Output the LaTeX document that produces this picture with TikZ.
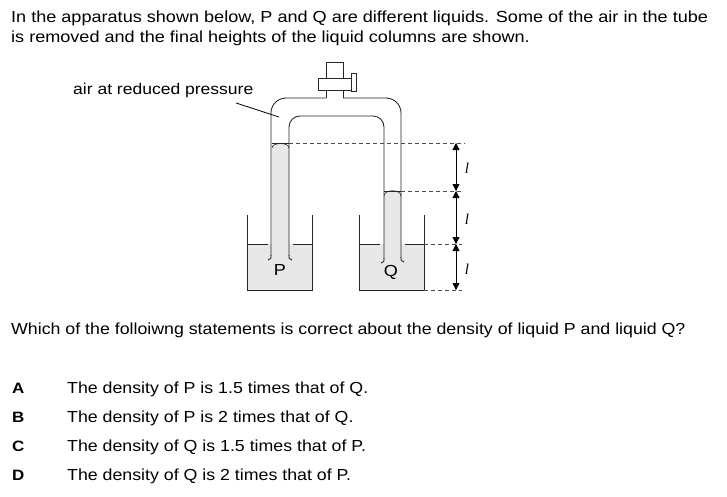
\documentclass[tikz,border=0pt]{standalone}
\usepackage{fontspec}
\setmainfont{Liberation Sans}[FakeStretch=1.13]
\newfontfamily\optfont{Liberation Sans}[FakeStretch=1.11]
\newfontfamily\serifit{Liberation Serif}
\usetikzlibrary{arrows.meta}
\begin{document}
\begin{tikzpicture}[x=1pt,y=-1pt,
  wall/.style={draw=black!85,line width=0.9pt},
  liquid/.style={fill=black!9},
  lev/.style={draw=black!70,dashed,dash pattern=on 4pt off 3pt,line width=0.7pt},
  dim/.style={draw=black,line width=0.8pt,{Triangle[length=7pt,width=7pt]}-{Triangle[length=7pt,width=7pt]}},
  txt/.style={anchor=base west,inner sep=0pt,font=\fontsize{16}{20}\selectfont},
  otxt/.style={anchor=base west,inner sep=0pt,font=\fontsize{16}{20}\optfont},
  opt/.style={anchor=base west,inner sep=0pt,font=\fontsize{15}{20}\selectfont\bfseries},
  lbl/.style={inner sep=0pt,font=\fontsize{16}{16}\selectfont},
  ell/.style={inner sep=0pt,font=\fontsize{15}{16}\selectfont\serifit\itshape}]
\useasboundingbox (0,0) rectangle (727,496);
% question text
\node[txt] (t1) at (11,22) {In the apparatus shown below, P and Q are different liquids. Some of the air in the tube};
\node[txt] (t2) at (11,42) {is removed and the final heights of the liquid columns are shown.};
\node[otxt] (t3) at (11,334) {Which of the folloiwng statements is correct about the density of liquid P and liquid Q?};
\node[opt] (la) at (12,393) {A};
\node[opt] (lb) at (12,422) {B};
\node[opt] (lc) at (12,451) {C};
\node[opt] (ld) at (12,480) {D};
\node[otxt] (oa) at (67,393) {The density of P is 1.5 times that of Q.};
\node[otxt] (ob) at (67,422) {The density of P is 2 times that of Q.};
\node[otxt] (oc) at (67,451) {The density of Q is 1.5 times that of P.};
\node[otxt] (od) at (67,480) {The density of Q is 2 times that of P.};
% liquids
\fill[liquid] (247,244) rectangle (312,290);
\fill[liquid] (359,244) rectangle (424,290);
\fill[liquid] (272,258) -- (272,148) .. controls (272,142) and (289,142) .. (289,148) -- (289,258) -- cycle;
\fill[liquid] (384,260) -- (384,196) .. controls (384,189) and (401,189) .. (401,196) -- (401,260) -- cycle;
\draw[wall,line width=0.6pt] (272,148) .. controls (272,142) and (289,142) .. (289,148);
\draw[wall,line width=0.6pt] (384,196) .. controls (384,189) and (401,189) .. (401,196);
% beakers
\draw[wall] (247,215) -- (247,290) -- (312,290) -- (312,215);
\draw[wall] (359,215) -- (359,290) -- (424,290) -- (424,215);
\draw[wall] (247,244) -- (268,244);
\draw[wall] (293,244) -- (312,244);
\draw[wall] (359,244) -- (380,244);
\draw[wall] (405,244) -- (424,244);
% tube outer
\draw[wall] (268,260) .. controls (271,259) .. (271,255);
\draw[wall,rounded corners=15pt] (271,256) -- (271,98) -- (326,98);
\draw[wall,rounded corners=15pt] (343,98) -- (401,98) -- (401,258);
\draw[wall] (401,257) .. controls (401,261) .. (404,262);
% tube inner
\draw[wall] (292,260) .. controls (289,259) .. (289,255);
\draw[wall,rounded corners=11pt] (289,256) -- (289,116) -- (384,116) -- (384,259);
\draw[wall] (384,258) .. controls (384,262) .. (381,263);
% meniscus lines
\draw[wall,line width=0.7pt] (272,143) -- (289,143);
\draw[wall,line width=0.7pt] (384,191) -- (401,191);
% valve
\draw[wall] (326,98) -- (326,90);
\draw[wall] (343,98) -- (343,90);
\draw[wall,fill=white] (318,78) rectangle (351,90);
\draw[wall,fill=white] (326,62) rectangle (343,78);
\draw[wall,fill=white] (351,73) rectangle (356,91);
% level lines
\draw[lev] (289,143) -- (465,143);
\draw[lev] (401,191) -- (462,191);
\draw[lev] (424,244) -- (462,244);
\draw[lev] (424,290) -- (462,290);
% dimension arrows
\coordinate (d0) at (456,143);
\coordinate (d1) at (456,191);
\coordinate (d2) at (456,244);
\coordinate (d3) at (456,290);
\draw[dim] (d0) -- (d1);
\draw[dim] (d1) -- (d2);
\draw[dim] (d2) -- (d3);
\node[ell] (l1) at (467,168) {l};
\node[ell] (l2) at (467,219) {l};
\node[ell] (l3) at (467,269) {l};
% labels
\node[lbl] (P) at (280,270) {P};
\node[lbl] (Q) at (391,272) {Q};
\node[txt,font=\fontsize{15.5}{18}\selectfont] (air) at (73,94) {air at reduced pressure};
\coordinate (airtip) at (279,117);
\draw[black,line width=0.8pt] (236,103) -- (airtip);
\end{tikzpicture}
\end{document}
